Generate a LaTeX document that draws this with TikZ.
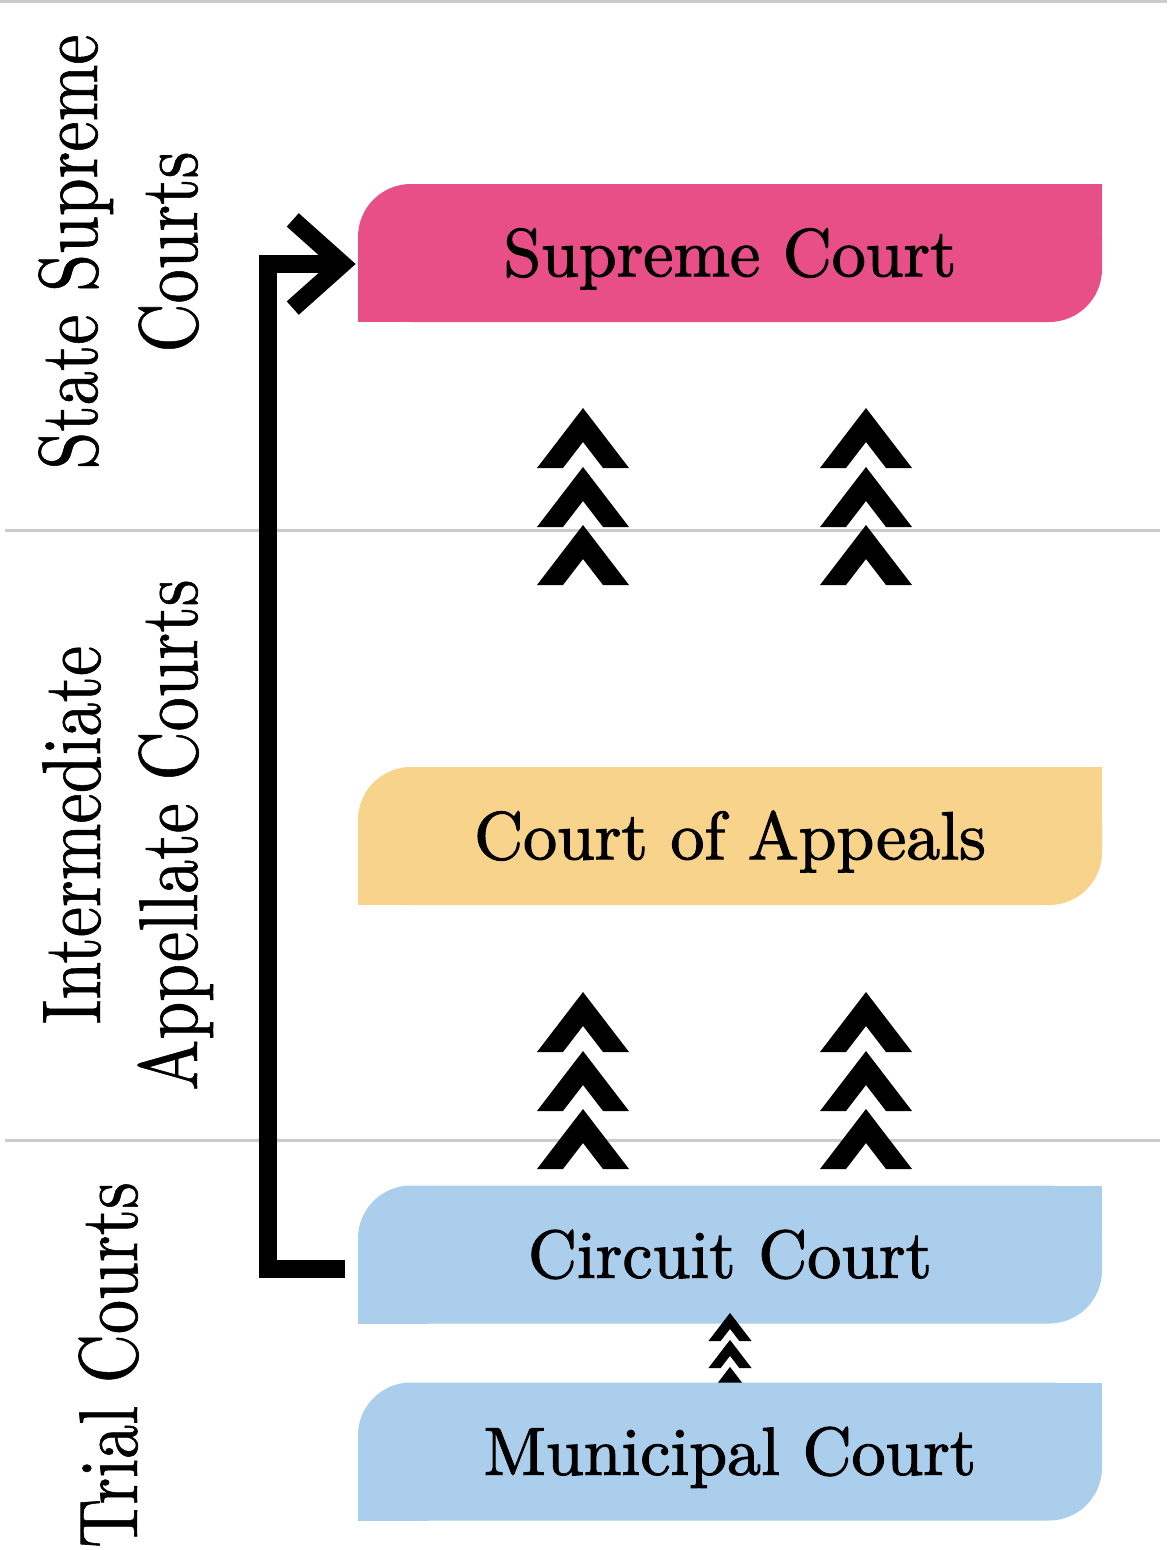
\documentclass[tikz,border=0pt]{standalone}
\usepackage{graphicx}
\usepackage{fontspec}
\newfontfamily\boxfont{lmroman10-regular.otf}[RawFeature={embolden=1.6}]
\newfontfamily\labelfont{lmroman10-regular.otf}[RawFeature={embolden=0.8}]
\usetikzlibrary{arrows.meta}
\definecolor{suppink}{HTML}{E94F87}
\definecolor{appyellow}{HTML}{F8D38B}
\definecolor{trialblue}{HTML}{AACEEC}
\definecolor{rulegray}{HTML}{CBCBCB}
\tikzset{
  courtbox/.style={draw=none, fill=none, minimum width=421.85pt, minimum height=78.25pt,
    inner sep=0pt, text height=26.3pt, text depth=0pt, font=\boxfont\fontsize{38.5}{46}\selectfont,
    path picture={
      \fill[#1, rounded corners=30pt] (path picture bounding box.south west) rectangle (path picture bounding box.north east);
      \fill[#1] (path picture bounding box.north east) rectangle ++(-40pt,-40pt);
      \fill[#1] (path picture bounding box.south west) rectangle ++(40pt,40pt);}},
  sidelabel/.style={rotate=90, anchor=base, inner sep=0pt, font=\labelfont\fontsize{38.6}{46}\selectfont},
  rule/.style={draw=rulegray, line width=1.7pt},
  appealline/.style={line width=10.2pt, line join=miter, line cap=butt,
    -{Straight Barb[length=28pt,width=50pt]}},
  chev/.pic={\fill[black] (-46,30) -- (0,-30) -- (46,30) -- (20,30) -- (0,4) -- (-20,30) -- cycle;}
}
\begin{document}
\begin{tikzpicture}[x=0.567pt, y=-0.567pt]
\useasboundingbox (0,0) rectangle (1167,1550);
% horizontal rules
\draw[rule] (0,1.5) -- (1167,1.5);
\draw[rule] (5,530) -- (1160,530);
\draw[rule] (5,1140) -- (1160,1140);
% side labels
\node[sidelabel] (l1a) at (97,252) {\scalebox{1}[1.22]{State Supreme}};
\node[sidelabel] (l1b) at (197,252) {\scalebox{1}[1.22]{Courts}};
\node[sidelabel] (l2a) at (100,835) {\scalebox{1}[1.22]{Intermediate}};
\node[sidelabel] (l2b) at (197,835) {\scalebox{1}[1.22]{Appellate Courts}};
\node[sidelabel] (l3) at (137,1365) {\scalebox{1}[1.22]{Trial Courts}};
% court boxes
\node[courtbox=suppink] (sup) at (730,253) {Supreme Court};
\node[courtbox=appyellow] (app) at (730,836) {Court of Appeals};
\node[courtbox=trialblue] (circ) at (730,1254.5) {Circuit Court};
% large chevrons
\foreach \cx in {583,866}{
  \foreach \cy in {438,497,555,1022,1081,1139}{
    \pic at (\cx,\cy) {chev};
  }
}
% small chevrons
\foreach \cy in {1327,1354,1381}{
  \pic[scale=0.47] at (730,\cy) {chev};
}
\node[courtbox=trialblue] (mun) at (730,1451.5) {Municipal Court};
% appeal path
\draw[appealline] ([shift={(-13,14)}]circ.west) -| ([shift={(-90,11)}]sup.west) -- ([shift={(-2,11)}]sup.west);
\end{tikzpicture}
\end{document}
